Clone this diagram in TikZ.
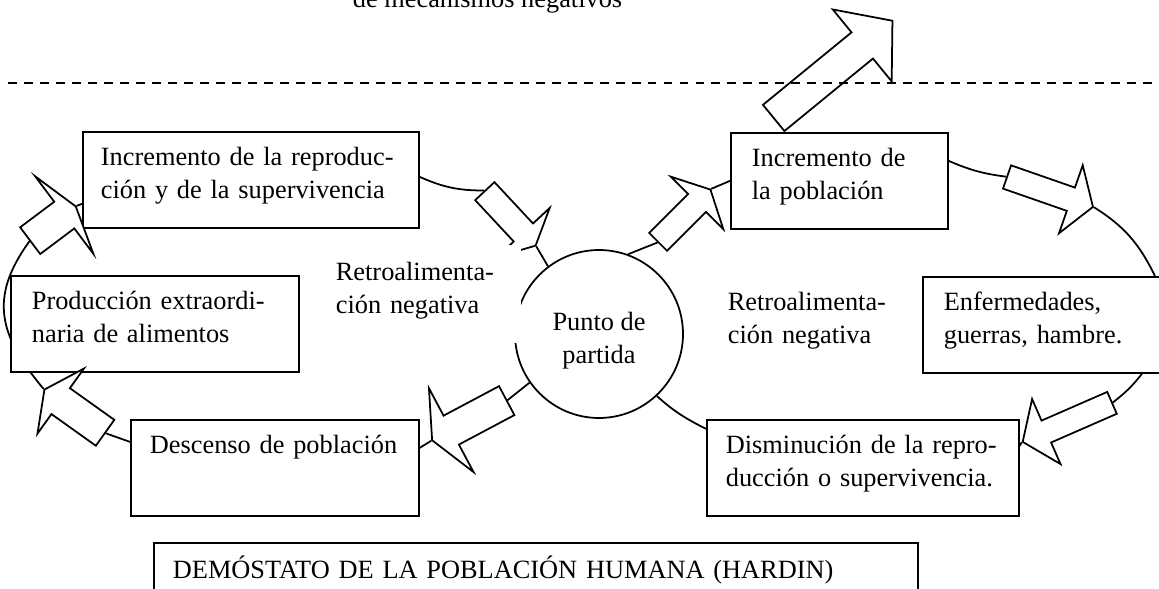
\documentclass[tikz,border=0pt]{standalone}
\usepackage{fontspec}
\setmainfont{Liberation Serif}
\usetikzlibrary{shapes.arrows,backgrounds}

\begin{document}
\begin{tikzpicture}[x=0.02cm,y=0.02cm,line width=1pt,
  font=\fontsize{15}{18.8}\selectfont,
  txtbox/.style={draw,fill=white,anchor=north west,align=left,
    inner ysep=0pt,text height=0.68cm,text depth=1.24cm},
  lbl/.style={txtbox,draw=none},
  blockarrow/.style={single arrow,draw,fill=white,inner xsep=0pt,anchor=tail},
  loopline/.style={draw,line width=1pt}]
  % Page frame (pixel units, y downwards negative)
  \useasboundingbox (0,0) rectangle (1159,-588);
  %
  % Boxes of the left loop
  \node[txtbox,inner xsep=0.36cm,text width=6.0cm] (repro) at (82,-131)
    {Incremento de la reproduc-\\ción y de la supervivencia};
  \node[txtbox,inner xsep=0.42cm,text width=4.92cm] (prod) at (10,-275)
    {Producción extraordi-\\naria de alimentos};
  \node[txtbox,inner xsep=0.38cm,text width=5.0cm] (desc) at (130,-419)
    {Descenso de población};
  %
  % Boxes of the right loop
  \node[txtbox,inner xsep=0.42cm,text width=3.5cm] (pobl) at (730,-132)
    {Incremento de\\la población};
  \node[txtbox,inner xsep=0.42cm,text width=4.36cm] (enf) at (922,-276)
    {Enfermedades,\\guerras, hambre.};
  \node[txtbox,inner xsep=0.38cm,text width=5.48cm] (dism) at (706,-419)
    {Disminución de la repro-\\ducción o supervivencia.};
  %
  % Title box
  \node[txtbox,inner xsep=0.38cm,text width=14.52cm,text height=0.72cm] (title) at (153,-542)
    {DEMÓSTATO DE LA POBLACIÓN HUMANA (HARDIN)};
  %
  % Block arrows (inner ysep = half shaft, minimum width = head)
  \node[blockarrow,inner ysep=0.185cm,minimum height=1.49cm,minimum width=1.44cm,
    single arrow head extend=0.35cm,single arrow tip angle=127,rotate=-47] (ar1) at (484.2,-190.5) {};
  \node[blockarrow,inner ysep=0.235cm,minimum height=1.69cm,minimum width=1.9cm,
    single arrow head extend=0.48cm,single arrow tip angle=131,rotate=208] (ar2) at (507.5,-400.2) {};
  \node[blockarrow,inner ysep=0.22cm,minimum height=1.49cm,minimum width=1.6cm,
    single arrow head extend=0.36cm,single arrow tip angle=127,rotate=144.5] (ar3) at (105.8,-433.3) {};
  \node[blockarrow,inner ysep=0.24cm,minimum height=1.14cm,minimum width=1.94cm,
    single arrow head extend=0.49cm,single arrow tip angle=147,rotate=36.9] (ar4) at (29.5,-241.2) {};
  \node[blockarrow,inner ysep=0.18cm,minimum height=1.48cm,minimum width=1.48cm,
    single arrow head extend=0.38cm,single arrow tip angle=126,rotate=45] (ar5) at (657.5,-242.5) {};
  \node[blockarrow,inner ysep=0.175cm,minimum height=1.82cm,minimum width=1.44cm,
    single arrow head extend=0.37cm,single arrow tip angle=114,rotate=-19.2] (ar6) at (1006.2,-176.7) {};
  \node[blockarrow,inner ysep=0.17cm,minimum height=1.95cm,minimum width=1.42cm,
    single arrow head extend=0.37cm,single arrow tip angle=108,rotate=203.6] (ar7) at (1112.8,-402.5) {};
  \node[blockarrow,inner ysep=0.24cm,minimum height=3.07cm,minimum width=1.86cm,
    single arrow head extend=0.45cm,single arrow tip angle=100,rotate=39.3] (out) at (773,-118.5) {};
  %
  % Starting point
  \node[circle,draw,fill=white,minimum size=3.36cm,inner sep=0pt,align=center,
    text height=1.28cm] (circ) at (599,-334) {Punto de\\partida};
  %
  % Loop labels
  \node[lbl,inner xsep=0.3cm,text width=3.4cm,text height=0.72cm] (retroL) at (320,-244)
    {Retroalimenta-\\ción negativa};
  \node[lbl,inner xsep=0.3cm,text width=3.4cm,text height=0.7cm] (retroR) at (712,-275)
    {Retroalimenta-\\ción negativa};
  %
  % Loops (behind everything)
  \begin{scope}[on background layer]
    % left loop
    \path[loopline] ([yshift=0.06cm]repro.east) to[bend right=12] (ar1.tail);
    \path[loopline] (ar1.tip) -- (circ.127);
    \path[loopline] (circ.215) -- (ar2.tail);
    \path[loopline] (ar2.tip) -- ([yshift=0.4cm]desc.east);
    \path[loopline] ([yshift=0.52cm]desc.west) -- (ar3.tail);
    \path[loopline] (ar3.tip) to[out=130,in=234,looseness=1.2] (ar4.tail);
    \path[loopline] (ar4.tip) -- ([yshift=-0.48cm]repro.west);
    % right loop
    \path[loopline] (circ.70) -- (ar5.tail);
    \path[loopline] (ar5.tip) -- (pobl.west);
    \path[loopline] ([yshift=0.4cm]pobl.east) to[bend right=8] (ar6.tail);
    \path[loopline] (ar6.tip) to[out=-32,in=116] ([xshift=4.66cm]enf.north west);
    \path[loopline] ([xshift=4.4cm]enf.south west) to[out=232,in=38] (ar7.tail);
    \path[loopline] (ar7.tip) -- ([yshift=0.44cm]dism.east);
    \path[loopline] ([yshift=0.78cm]dism.west) to[out=153,in=318] (circ.313);
  \end{scope}
  %
  % Threshold line and caption above it
  \draw[dash pattern=on 5.1pt off 4pt] (8,-83) -- (1152,-83);
  \node[anchor=base west,inner sep=0pt] (mec) at (352,-8) {de mecanismos negativos};
  %
\end{tikzpicture}
\end{document}
